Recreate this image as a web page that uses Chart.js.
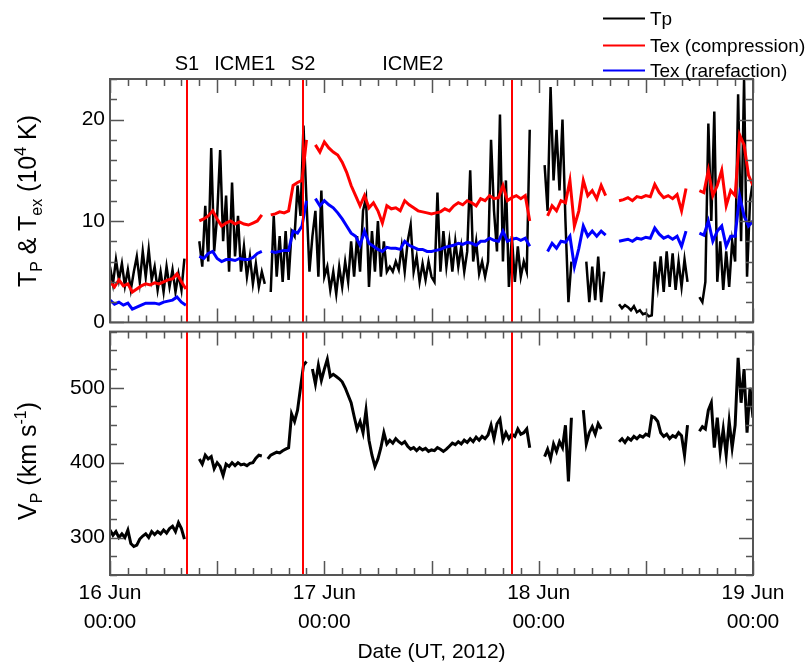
<!DOCTYPE html>
<html>
<head>
<meta charset="utf-8">
<script src="https://cdn.jsdelivr.net/npm/chart.js@4.4.1/dist/chart.umd.min.js"></script>
<style>
html,body{margin:0;padding:0;background:#fff;}
body{width:810px;height:662px;position:relative;overflow:hidden;font-family:"Liberation Sans",Arial,sans-serif;color:#000;}
canvas{position:absolute;left:0;}
#cTop{top:0;}
#cBot{top:314px;}
.lbl{position:absolute;font-size:20px;transform:translate(-50%,-50%);white-space:nowrap;line-height:1;}
.ytitle{position:absolute;font-size:25px;transform:translate(-50%,-50%) rotate(-90deg);white-space:nowrap;line-height:1;}
.ytitle sub,.ytitle sup{font-size:16px;line-height:0;}
.leg{position:absolute;font-size:19px;white-space:nowrap;line-height:1;transform:translateY(-50%);}
.leg .ln{display:inline-block;width:42px;height:2px;vertical-align:middle;margin-right:5px;position:relative;top:-1px;}
</style>
</head>
<body>
<canvas id="cTop" width="810" height="340"></canvas>
<canvas id="cBot" width="810" height="348"></canvas>
<div id="overlay"></div>
<script>
// ---------------- DATA ----------------
// Proton temperature Tp (10^4 K), one value every 20 min from 16 Jun 00:00
const tpStepHours = 1 / 3;
const tpValues = [
  5.5, 3.8, 6.2, 4.2, 5.8, 3.6, 5.2, 3.2, 5.0, 6.5, 4.0, 7.0, 4.5, 7.2, 4.2,
  5.5, 3.2, 5.0, 3.0, 5.5, 3.5, 5.2, 3.0, 4.8, 3.2, 6.3, null, null, null, null,
  8.0, 5.5, 11.5, 6.0, 17.2, 7.0, 10.5, 17.0, 8.0, 12.5, 5.0, 13.8, 6.5, 10.5, 5.0,
  7.5, 4.5, 6.5, 3.8, 5.8, 3.5, 5.0, 3.8, null, 3.0, 10.5, 4.5, 8.5, 4.0, 9.0,
  4.2, 9.0, 8.5, 13.5, 10.5, 19.4, 12.0, 5.0, 8.5, 11.0, 4.5, 13.0, 4.5, 5.5, 3.2,
  5.0, 2.8, 5.5, 3.5, 6.0, 4.0, 8.0, 4.5, 8.5, 5.0, 11.0, 12.3, 3.5, 9.0, 5.0,
  10.0, 4.5, 8.0, 5.0, 5.5, 5.0, 6.0, 5.2, 7.5, 5.0, 8.0, 9.6, 5.0, 6.5, 4.0,
  5.8, 4.2, 6.0, 4.5, 4.0, 12.8, 5.0, 9.0, 5.5, 8.0, 5.0, 8.0, 5.5, 7.5, 5.0,
  7.0, 15.0, 6.0, 8.0, 4.8, 6.0, 4.5, 6.0, 18.0, 11.0, 7.0, 20.5, 6.0, 14.0, 3.5,
  8.5, 4.0, 7.5, 4.5, 6.0, 5.0, 19.0, null, null, null, null, 15.5, 11.0, 23.2, 14.0,
  19.0, 13.0, 20.0, 10.0, 2.0, 6.0, null, 4.0, null, null, 6.0, 2.0, 5.5, 2.2, 6.5,
  2.0, 5.0, null, null, null, null, 1.8, 1.4, 1.7, 1.5, 1.2, 1.6, 1.0, 1.2, 0.8,
  0.9, 0.6, 0.7, 6.0, 3.5, 6.5, 3.0, 7.0, 3.5, 6.8, 3.2, 6.0, 3.5, 6.2, 4.0,
  null, null, null, 2.5, 2.0, 4.0, 19.6, 10.0, 20.8, 4.0, 8.0, 3.2, 7.0, 3.5, 8.0,
  6.0, 22.5, 8.0, 24.0, 4.5, 12.0, 14.0
];
// Proton speed Vp (km/s), same 20-min grid
const vpValues = [
  310, 303, 308, 300, 305, 300, 310, 292, 288, 290, 298, 302, 305, 300, 308,
  304, 308, 305, 310, 306, 312, 315, 308, 320, 312, 298, null, null, null, null,
  405, 398, 410, 405, 408, 392, 400, 395, 383, 398, 395, 400, 396, 400, 397,
  398, 396, 399, 400, 406, 410, 409, null, 405, 410, 412, 414, 413, 416, 418,
  420, 465, 455, 470, 500, 530, 535, null, 525, 505, 530, 510, 525, 538, 515,
  518, 515, 512, 508, 500, 490, 480, 462, 445, 455, 440, 470, 430, 410, 395,
  405, 420, 440, 425, 430, 426, 432, 428, 425, 428, 422, 418, 420, 416, 420,
  417, 419, 415, 417, 416, 420, 418, 415, 418, 422, 426, 424, 428, 425, 430,
  427, 432, 428, 434, 430, 435, 432, 437, 450, 432, 452, 458, 430, 440, 432,
  438, 435, 445, 438, 440, 445, 420, null, null, null, null, 408, 418, 405, 425,
  415, 428, 420, 450, 375, 460, null, 395, null, 470, 425, 440, 448, 438, 452,
  445, null, null, null, null, null, 428, 432, 427, 433, 430, 435, 432, 436, 434,
  438, 436, 462, 460, 455, 440, 435, 438, 432, 436, 434, 440, 436, 410, 450,
  null, null, null, 442, 448, 445, 470, 480, 420, 460, 415, 445, 410, 455, 420,
  450, 540, 480, 525, 440, 500, 460
];
// Expected temperatures Tex (10^4 K), one value every 30 min
const texStepHours = 0.5;
const texCompression = [
  4.0, 3.5, 4.2, 3.6, 3.8, 3.0, 3.3, 3.6, 3.8, 3.7, 3.9, 3.8, 4.0, 4.2, 4.3,
  4.8, 4.0, 3.3, null, null, 10.0, 10.2, 10.5, 11.0, 10.2, 9.5, 9.8, 10.0, 9.7, 9.9,
  9.7, 9.6, 9.8, 10.0, 10.6, null, 10.6, 10.7, 10.9, 10.8, 11.0, 13.5, 13.8, 14.0, 18.0,
  null, 17.5, 16.8, 17.8, 17.2, 16.8, 16.5, 15.8, 14.8, 13.5, 12.5, 11.5, 12.5, 11.3, 11.8,
  11.0, 9.8, 11.5, 11.2, 11.3, 11.0, 12.0, 11.6, 11.3, 11.0, 10.9, 10.8, 10.7, 10.8, 10.9,
  11.2, 11.0, 11.5, 11.8, 11.6, 12.0, 11.8, 11.5, 12.2, 12.0, 12.5, 12.2, 12.3, 13.5, 12.0,
  12.3, 12.5, 12.2, 12.5, 10.0, null, null, null, 10.5, 11.5, 11.0, 12.0, 11.8, 14.0, 9.5,
  11.0, 14.0, 12.5, 13.0, 12.2, 13.5, 12.5, null, null, 12.0, 12.1, 12.3, 12.0, 12.4, 12.3,
  12.5, 12.4, 13.6, 12.8, 12.3, 12.5, 12.2, 12.6, 11.0, 13.2, null, null, 13.0, 12.8, 15.0,
  12.5, 13.5, 15.0, 11.5, 13.0, 12.5, 18.5, 17.5, 14.5, 13.5
];
const texRarefaction = [
  2.2, 1.8, 2.0, 1.7, 1.9, 1.3, 1.5, 1.7, 1.9, 1.9, 1.9, 1.8, 2.0, 2.1, 2.2,
  2.5, 2.0, 1.7, null, null, 6.5, 6.3, 6.8, 7.0, 6.3, 6.0, 6.2, 6.2, 6.1, 6.3,
  6.2, 6.2, 6.4, 6.8, 7.0, null, 7.0, 6.9, 7.0, 7.1, 7.1, 9.0, 8.8, 9.5, 12.0,
  null, 12.2, 11.5, 12.0, 11.6, 11.3, 10.8, 10.2, 9.5, 8.8, 8.5, 7.6, 9.0, 7.8, 7.5,
  7.2, 7.0, 7.4, 7.3, 7.3, 7.2, 8.0, 7.6, 7.4, 7.2, 7.2, 7.0, 7.0, 7.1, 7.2,
  7.4, 7.5, 7.6, 7.8, 7.7, 7.9, 7.8, 7.6, 8.0, 8.0, 8.3, 8.1, 8.0, 9.0, 8.0,
  8.2, 8.3, 8.1, 8.3, 7.5, null, null, null, 7.0, 7.8, 7.3, 8.0, 7.9, 8.5, 5.5,
  7.3, 9.5, 8.5, 9.0, 8.5, 9.0, 8.6, null, null, 8.0, 8.1, 8.2, 8.0, 8.3, 8.2,
  8.4, 8.3, 9.3, 8.7, 8.3, 8.5, 8.2, 8.5, 7.5, 9.0, null, null, 8.8, 8.6, 10.0,
  8.0, 9.0, 9.5, 7.5, 8.5, 8.5, 12.5, 10.5, 9.5, 10.0
];
// Event markers (hours after 16 Jun 00:00) and annotation labels
const eventHours = [8.62, 21.62, 44.98];
const annotationLabels = ['S1', 'ICME1', 'S2', 'ICME2'];
const annotationHours = [8.62, 15.1, 21.62, 33.9];
// Date tick labels
const dayTickHours = [0, 24, 48, 72];
const dayTickLabels = [['16 Jun', '00:00'], ['17 Jun', '00:00'], ['18 Jun', '00:00'], ['19 Jun', '00:00']];
const seriesNames = ['Tp', 'Tex (compression)', 'Tex (rarefaction)'];
const seriesColors = ['#000000', '#ff0000', '#0000ff'];

// ---------------- HELPERS ----------------
const FONT = '"Liberation Sans", Arial, sans-serif';
function toXY(values, step) {
  return values.map((v, i) => ({ x: i * step, y: v }));
}

const framePlugin = {
  id: 'frame',
  afterDatasetsDraw(chart, args, opts) {
    const { ctx, chartArea: a } = chart;
    const xs = chart.scales.x, ys = chart.scales.y;
    ctx.save();
    // event lines
    ctx.strokeStyle = '#ff0000';
    ctx.lineWidth = 2;
    eventHours.forEach(h => {
      const px = Math.round(xs.getPixelForValue(h));
      ctx.beginPath(); ctx.moveTo(px, a.top); ctx.lineTo(px, a.bottom); ctx.stroke();
    });
    // ticks
    ctx.strokeStyle = '#555';
    ctx.lineWidth = 1.5;
    xs.ticks.forEach(t => {
      const px = Math.round(xs.getPixelForValue(t.value)) + 0.5;
      const len = (t.value % 12 === 0) ? 14 : 7;
      ctx.beginPath();
      ctx.moveTo(px, a.top); ctx.lineTo(px, a.top + len);
      ctx.moveTo(px, a.bottom); ctx.lineTo(px, a.bottom - len);
      ctx.stroke();
    });
    ys.ticks.forEach(t => {
      const py = Math.round(ys.getPixelForValue(t.value)) + 0.5;
      const len = (t.value % opts.major === 0) ? 14 : 7;
      ctx.beginPath();
      ctx.moveTo(a.left, py); ctx.lineTo(a.left + len, py);
      ctx.moveTo(a.right, py); ctx.lineTo(a.right - len, py);
      ctx.stroke();
    });
    // frame
    ctx.lineWidth = 2;
    ctx.strokeRect(a.left, a.top, a.right - a.left, a.bottom - a.top);
    ctx.restore();
  }
};

const common = {
  responsive: false,
  animation: false,
  devicePixelRatio: 1,
  parsing: true,
  elements: { point: { radius: 0 }, line: { tension: 0 } },
  plugins: { legend: { display: false }, tooltip: { enabled: false } }
};

// ---------------- TOP CHART ----------------
const topChart = new Chart(document.getElementById('cTop'), {
  type: 'line',
  data: {
    datasets: [
      { label: seriesNames[0], data: toXY(tpValues, tpStepHours), borderColor: seriesColors[0], borderWidth: 2.5, spanGaps: false, order: 3 },
      { label: seriesNames[1], data: toXY(texCompression, texStepHours), borderColor: seriesColors[1], borderWidth: 3, spanGaps: false, order: 2 },
      { label: seriesNames[2], data: toXY(texRarefaction, texStepHours), borderColor: seriesColors[2], borderWidth: 3, spanGaps: false, order: 1 }
    ]
  },
  options: Object.assign({}, common, {
    layout: { padding: { left: 0, right: 57, top: 79, bottom: 16 } },
    scales: {
      x: {
        type: 'linear', min: 0, max: 72,
        grid: { display: false, drawTicks: false }, border: { display: false },
        ticks: { display: false, stepSize: 2, autoSkip: false },
        afterFit: s => { s.height = 0; }
      },
      y: {
        min: 0, max: 24,
        grid: { display: false, drawTicks: false }, border: { display: false },
        ticks: { stepSize: 2, autoSkip: false, padding: 5, color: '#000', font: { family: FONT, size: 21 },
                 callback: v => (v % 10 === 0 ? String(v) : '') },
        afterFit: s => { s.width = 110; }
      }
    },
    plugins: { legend: { display: false }, tooltip: { enabled: false }, frame: { major: 10 } }
  }),
  plugins: [framePlugin]
});

// ---------------- BOTTOM CHART ----------------
const botChart = new Chart(document.getElementById('cBot'), {
  type: 'line',
  data: {
    datasets: [
      { label: 'Vp', data: toXY(vpValues, tpStepHours), borderColor: '#000', borderWidth: 3, spanGaps: false }
    ]
  },
  options: Object.assign({}, common, {
    layout: { padding: { left: 0, right: 57, top: 15, bottom: 0 } },
    scales: {
      x: {
        type: 'linear', min: 0, max: 72,
        grid: { display: false, drawTicks: false }, border: { display: false },
        ticks: { stepSize: 2, autoSkip: false, maxRotation: 0, minRotation: 0, padding: 4, color: '#000',
                 font: { family: FONT, size: 21, lineHeight: 1.38 },
                 callback: v => { const k = dayTickHours.indexOf(v); return k >= 0 ? dayTickLabels[k] : ''; } },
        title: { display: true, text: 'Date (UT, 2012)', color: '#000', font: { family: FONT, size: 21, lineHeight: 0.9 }, padding: { top: 0, bottom: 0 } },
        afterFit: s => { s.height = 87; }
      },
      y: {
        min: 250, max: 575,
        grid: { display: false, drawTicks: false }, border: { display: false },
        ticks: { stepSize: 25, autoSkip: false, padding: 5, color: '#000', font: { family: FONT, size: 21 },
                 callback: v => (v % 100 === 0 ? String(v) : '') },
        afterFit: s => { s.width = 110; }
      }
    },
    plugins: { legend: { display: false }, tooltip: { enabled: false }, frame: { major: 100 } }
  }),
  plugins: [framePlugin]
});

// ---------------- HTML TEXT OVERLAYS ----------------
const ov = document.getElementById('overlay');
annotationLabels.forEach((t, i) => {
  const d = document.createElement('div');
  d.className = 'lbl';
  d.textContent = t;
  d.style.left = topChart.scales.x.getPixelForValue(annotationHours[i]) + 'px';
  d.style.top = '63px';
  ov.appendChild(d);
});
const legendY = [18, 45, 70];
seriesNames.forEach((n, i) => {
  const d = document.createElement('div');
  d.className = 'leg';
  d.style.left = '603px';
  d.style.top = legendY[i] + 'px';
  const ln = document.createElement('span');
  ln.className = 'ln';
  ln.style.background = seriesColors[i];
  d.appendChild(ln);
  d.appendChild(document.createTextNode(n));
  ov.appendChild(d);
});
const t1 = document.createElement('div');
t1.className = 'ytitle';
t1.innerHTML = 'T<sub>P</sub> &amp; T<sub>ex</sub> (10<sup>4</sup> K)';
t1.style.left = '27px'; t1.style.top = '201px';
ov.appendChild(t1);
const t2 = document.createElement('div');
t2.className = 'ytitle';
t2.innerHTML = 'V<sub>P</sub> (km s<sup>-1</sup>)';
t2.style.left = '27px'; t2.style.top = '461px';
ov.appendChild(t2);
</script>
</body>
</html>
